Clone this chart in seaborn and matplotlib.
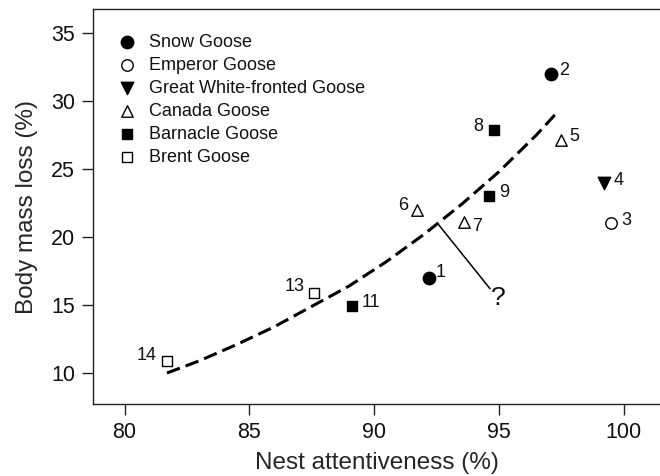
"""
Goose nest attentiveness vs. body mass loss during incubation.
"""

import matplotlib
matplotlib.use("Agg")
import matplotlib.pyplot as plt
import seaborn as sns

# --- data ---
species_names = [
    "Snow Goose",
    "Emperor Goose",
    "Great White-fronted Goose",
    "Canada Goose",
    "Barnacle Goose",
    "Brent Goose",
]
species_markers = ["o", "o", "v", "^", "s", "s"]
species_filled = [True, False, True, False, True, False]

point_ids = [1, 2, 3, 4, 5, 6, 7, 8, 9, 11, 13, 14]
attentiveness = [92.2, 97.1, 99.5, 99.2, 97.5, 91.7, 93.6, 94.8, 94.6, 89.1, 87.6, 81.7]
mass_loss = [17.0, 32.0, 21.0, 24.0, 27.1, 22.0, 21.1, 27.9, 23.0, 14.9, 15.9, 10.9]
point_species = [
    "Snow Goose", "Snow Goose", "Emperor Goose", "Great White-fronted Goose",
    "Canada Goose", "Canada Goose", "Canada Goose",
    "Barnacle Goose", "Barnacle Goose", "Barnacle Goose",
    "Brent Goose", "Brent Goose",
]

# dashed trend curve
curve_x = [81.7, 83.0, 84.5, 86.0, 87.5, 89.0, 90.5, 92.0, 93.5, 95.0, 96.5, 97.3]
curve_y = [10.0, 10.9, 12.1, 13.4, 14.9, 16.4, 18.2, 20.2, 22.4, 24.8, 27.5, 29.1]

# "?" pointer
pointer_x = [92.54, 94.64]
pointer_y = [21.0, 16.2]

# number labels: which side of the marker, offsets in points
label_side = ["r", "r", "r", "r", "r", "l", "r", "l", "r", "r", "l", "l"]
label_dx = [5, 5.5, 7, 7, 6, -6, 6, -7.5, 7, 7, -7, -7.5]
label_dy = [3.5, 2.5, 2, 1.5, 2.5, 3, -3, 2.5, 3, 3, 4.5, 4]


def main():
    sns.set_style("ticks")
    plt.rcParams["font.family"] = ["Liberation Sans", "DejaVu Sans"]
    plt.rcParams["text.color"] = "#111111"

    fig = plt.figure(figsize=(6.6, 4.76), dpi=100)
    ax = fig.add_axes([0.141, 0.1506, 0.859, 0.8305])

    for name, marker, filled in zip(species_names, species_markers, species_filled):
        idx = [i for i, s in enumerate(point_species) if s == name]
        xs = [attentiveness[i] for i in idx]
        ys = [mass_loss[i] for i in idx]
        size = 80 if marker in ("o", "v", "^") else 62
        if not filled:
            size = size * 0.85
        sns.scatterplot(
            x=xs, y=ys, ax=ax, marker=marker, s=size,
            color="black" if filled else "white",
            edgecolor="black", linewidth=1.0, label=name, zorder=3,
        )

    sns.lineplot(x=curve_x, y=curve_y, ax=ax, color="black", lw=2.2,
                 dashes=False, zorder=2, sort=True)
    ax.lines[-1].set_dashes((4.5, 2.0))
    sns.lineplot(x=pointer_x, y=pointer_y, ax=ax, color="black", lw=1.1, zorder=2)
    ax.text(94.98, 15.5, "?", fontsize=19, ha="center", va="center")

    for pid, x, y, side, dx, dy in zip(point_ids, attentiveness, mass_loss,
                                      label_side, label_dx, label_dy):
        ax.annotate(str(pid), (x, y), xytext=(dx, dy), textcoords="offset points",
                    ha="left" if side == "r" else "right", va="center", fontsize=13)

    ax.set_xlim(78.74, 101.45)
    ax.set_ylim(7.7, 36.76)
    ax.set_xticks([80, 85, 90, 95, 100])
    ax.set_yticks([10, 15, 20, 25, 30, 35])
    ax.tick_params(axis="both", labelsize=15.5, length=8, width=1.0, pad=5,
                   color="#222222", labelcolor="#111111")
    ax.set_xlabel("Nest attentiveness (%)", fontsize=17.5, labelpad=6)
    ax.set_ylabel("Body mass loss (%)", fontsize=17.5, labelpad=9)
    for side in ("left", "bottom", "top"):
        ax.spines[side].set_linewidth(1.0)
        ax.spines[side].set_color("#222222")
    ax.spines["right"].set_visible(False)

    ax.legend(loc="upper left", bbox_to_anchor=(0.044, 0.937), frameon=False,
              fontsize=13, labelspacing=0.33, handletextpad=0.72,
              borderaxespad=0.0, borderpad=0.0, handlelength=1.0, markerscale=1.0)

    fig.savefig("out.png", dpi=100)
    plt.close(fig)


if __name__ == "__main__":
    main()
